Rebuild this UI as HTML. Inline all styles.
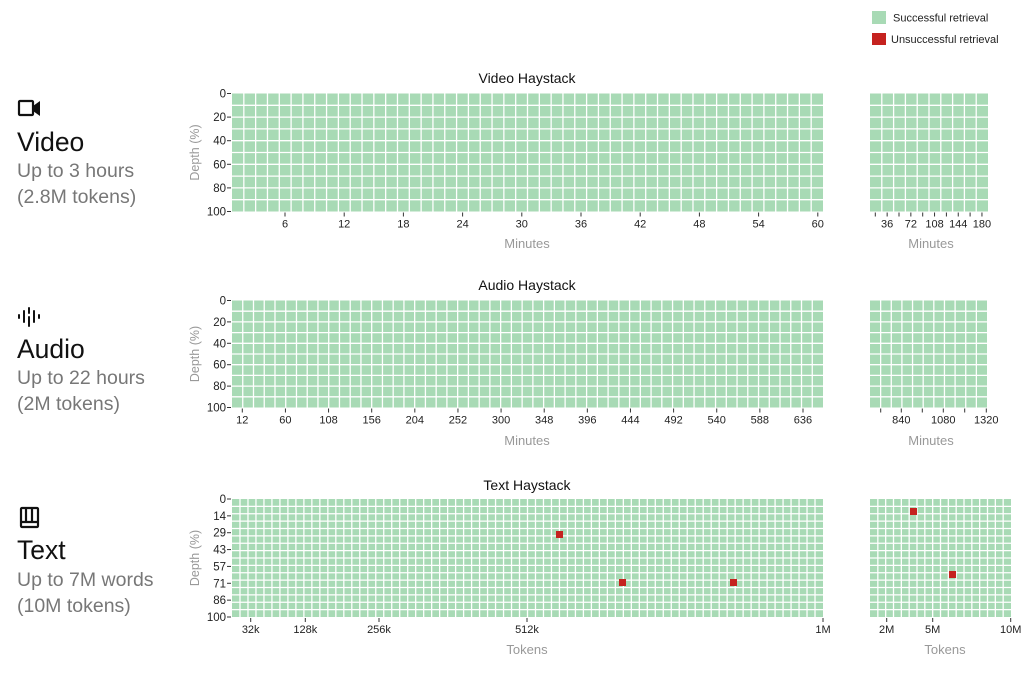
<!DOCTYPE html>
<html><head><meta charset="utf-8"><style>
html,body{margin:0;padding:0;background:#fff;}
svg{display:block;font-family:"Liberation Sans",sans-serif;}
</style></head><body>
<svg id="s" width="1031" height="684" viewBox="0 0 1031 684" xmlns="http://www.w3.org/2000/svg">
<rect x="872" y="11" width="14" height="13" fill="#a8dab5"/>
<text x="893" y="21.5" font-size="11" fill="#222">Successful retrieval</text>
<rect x="872" y="33" width="14" height="12" fill="#c5221f"/>
<text x="891" y="43" font-size="11" fill="#222">Unsuccessful retrieval</text>
<g fill="none" stroke="#111" stroke-width="2.2">
<rect x="19" y="101" width="14" height="14" rx="1"/>
</g>
<path d="M33 106 L40 101 L40 116 L33 111 Z" fill="#111"/>
<text x="17" y="151" font-size="26.5" fill="#111">Video</text>
<text x="17" y="177" font-size="19.5" fill="#777">Up to 3 hours</text>
<text x="17" y="203" font-size="19.5" fill="#777">(2.8M tokens)</text>
<g stroke="#111" stroke-width="2" stroke-linecap="round">
<line x1="19" y1="315" x2="19" y2="318"/>
<line x1="24" y1="311" x2="24" y2="322"/>
<line x1="29" y1="308" x2="29" y2="313"/>
<line x1="29" y1="317" x2="29" y2="326"/>
<line x1="34" y1="311" x2="34" y2="322"/>
<line x1="39" y1="315" x2="39" y2="318"/>
</g>
<text x="17" y="358" font-size="26.5" fill="#111">Audio</text>
<text x="17" y="384" font-size="19.5" fill="#777">Up to 22 hours</text>
<text x="17" y="410" font-size="19.5" fill="#777">(2M tokens)</text>
<g fill="none" stroke="#111" stroke-width="2.2">
<rect x="21" y="508" width="17" height="19" rx="1"/>
<line x1="26" y1="508" x2="26" y2="522"/>
<line x1="32" y1="508" x2="32" y2="522"/>
<line x1="21" y1="522" x2="38" y2="522"/>
</g>
<text x="17" y="559" font-size="26.5" fill="#111">Text</text>
<text x="17" y="586" font-size="19.5" fill="#777">Up to 7M words</text>
<text x="17" y="612" font-size="19.5" fill="#777">(10M tokens)</text>
<g id="charts"></g>
</svg>
<script>
var NS="http://www.w3.org/2000/svg",g=document.getElementById("charts");
function el(t,a,txt){var e=document.createElementNS(NS,t);for(var k in a)e.setAttribute(k,a[k]);if(txt!=null)e.textContent=txt;g.appendChild(e);return e;}
function grid(x0,y0,x1,y1,cols,rows){
 el("rect",{x:x0,y:y0,width:x1-x0,height:y1-y0,fill:"#a8dab5"});
 var cw=(x1-x0)/cols,rh=(y1-y0)/rows;
 for(var i=1;i<cols;i++){var x=x0+i*cw;el("line",{x1:x,y1:y0,x2:x,y2:y1,stroke:"#fff","stroke-width":1.3});}
 for(var j=1;j<rows;j++){var y=y0+j*rh;el("line",{x1:x0,y1:y,x2:x1,y2:y,stroke:"#fff","stroke-width":1.3});}
}
function yax(x0,y0,y1,labels){
 var n=labels.length-1;
 for(var i=0;i<=n;i++){var y=y0+(y1-y0)*i/n;
  el("line",{x1:x0-5,y1:y,x2:x0-1,y2:y,stroke:"#333","stroke-width":1});
  el("text",{x:x0-6,y:y+4,"font-size":11.5,fill:"#222","text-anchor":"end"},labels[i]);}
 var cy=(y0+y1)/2;
 el("text",{x:0,y:0,"font-size":12.5,fill:"#999","text-anchor":"middle",transform:"translate(199,"+cy+") rotate(-90)"},"Depth (%)");
}
function xt(y,ticks){ticks.forEach(function(t){
 el("line",{x1:t[0],y1:y+1,x2:t[0],y2:y+5,stroke:"#333","stroke-width":1});
 if(t[1])el("text",{x:t[0],y:y+16,"font-size":11,fill:"#222","text-anchor":"middle"},t[1]);});}
function title(x,y,s){el("text",{x:x,y:y,"font-size":14,fill:"#111","text-anchor":"middle"},s);}
function xl(x,y,s){el("text",{x:x,y:y,"font-size":13,fill:"#999","text-anchor":"middle"},s);}
title(527,83,"Video Haystack");
grid(232,93.5,823,211.5,50,10);
yax(232,93.5,211.5,["0","20","40","60","80","100"]);
var t=[];for(var i=0;i<10;i++)t.push([285+i*59.2,String(6+6*i)]);xt(211.5,t);
xl(527,248,"Minutes");
grid(870,93.5,988,211.5,10,10);
t=[];for(var i=0;i<10;i++)t.push([875.3+i*11.85,(i%2==1)?String(36*(i+1)/2):""]);xt(211.5,t);
xl(931,248,"Minutes");
title(527,290,"Audio Haystack");
grid(232,300.5,823,407.5,55,10);
yax(232,300.5,407.5,["0","20","40","60","80","100"]);
t=[];for(var i=0;i<14;i++)t.push([242.3+i*43.13,String(12+48*i)]);xt(407.5,t);
xl(527,445,"Minutes");
grid(870,300.5,987,407.5,11,10);
t=[[880.7,""],[901.3,"840"],[922.3,""],[943.3,"1080"],[964.7,""],[986.3,"1320"]];xt(407.5,t);
xl(931,445,"Minutes");
title(527,490,"Text Haystack");
grid(232,499,823,617,74,16);
yax(232,499,617,["0","14","29","43","57","71","86","100"]);
xt(617,[[250.7,"32k"],[305.3,"128k"],[379,"256k"],[527,"512k"],[823,"1M"]]);
xl(527,654,"Tokens");
grid(870,499,1011,617,18,16);
xt(617,[[886.7,"2M"],[932.7,"5M"],[1010.7,"10M"]]);
xl(945,654,"Tokens");
[[556,531,7,7],[619,579,7,7],[730,579,7,7],[910,508,7,7],[949,571,7,7]].forEach(function(r){
 el("rect",{x:r[0],y:r[1],width:r[2],height:r[3],fill:"#c5221f"});});
</script>
</body></html>
